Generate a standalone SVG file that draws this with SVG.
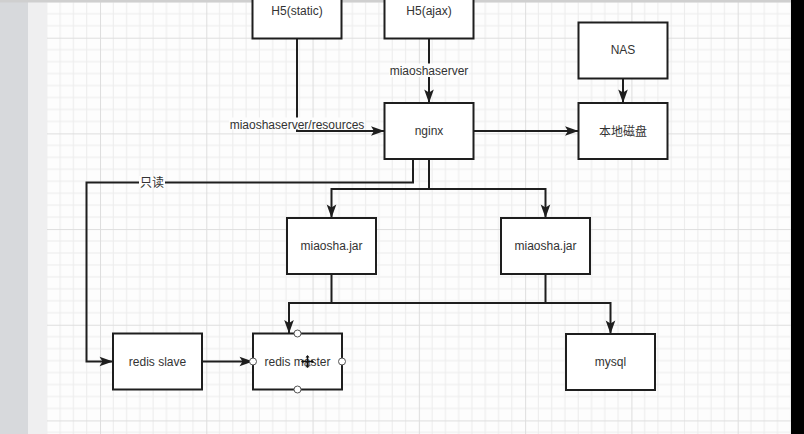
<svg xmlns="http://www.w3.org/2000/svg" width="804" height="434" viewBox="0 0 804 434">
<style>
.box{fill:#ffffff;stroke:#1e1e1e;stroke-width:2}
.t{font-family:"Liberation Sans",Arial,"Noto Sans CJK SC",sans-serif;font-size:12px;fill:#333333;text-anchor:middle}
.c{fill:none;stroke:#1e1e1e;stroke-width:2}
.lbg{fill:#fdfdfd}
.pt{fill:#ffffff;stroke:#555555;stroke-width:1}
</style>
<defs>
<pattern id="grid" patternUnits="userSpaceOnUse" x="100" y="37.7" width="106.28" height="95.68">
<rect width="106.28" height="95.68" fill="#fdfdfd"/>
<g stroke="#ececec" stroke-width="1">
<path d="M13.285 0V95.68M26.57 0V95.68M39.855 0V95.68M53.14 0V95.68M66.425 0V95.68M79.71 0V95.68M92.995 0V95.68"/>
<path d="M0 11.96H106.28M0 23.92H106.28M0 35.88H106.28M0 47.84H106.28M0 59.8H106.28M0 71.76H106.28M0 83.72H106.28"/>
</g>
<path d="M0.5 0V95.68M0 0.5H106.28" stroke="#dedede" stroke-width="1"/>
</pattern>
<marker id="ar" markerUnits="userSpaceOnUse" markerWidth="16" markerHeight="12" viewBox="-14 -6 16 12" refX="0" refY="0" orient="auto">
<path d="M0 0L-13.5 -4.8L-10.5 0L-13.5 4.8Z" fill="#1e1e1e"/>
</marker>
</defs>
<rect x="0" y="0" width="804" height="434" fill="#fdfdfd"/>
<rect x="47" y="0" width="744" height="434" fill="url(#grid)"/>
<rect x="0" y="0" width="28" height="434" fill="#d7d9dc"/>
<rect x="28" y="0" width="19" height="434" fill="#efeff0"/>
<rect x="0" y="0" width="804" height="2.5" fill="#cfcfcf"/>
<rect x="791" y="0" width="13" height="434" fill="#000000"/>

<g id="connectors">
<path class="c" d="M297 38.5V131H384.5" marker-end="url(#ar)"/>
<path class="c" d="M429 38.5V103" marker-end="url(#ar)"/>
<path class="c" d="M473.5 131H578.5" marker-end="url(#ar)"/>
<path class="c" d="M623 78.5V103" marker-end="url(#ar)"/>
<path class="c" d="M413 159V182.5H86.5V361.5H113" marker-end="url(#ar)"/>
<path class="c" d="M429 159V189H331.5V218" marker-end="url(#ar)"/>
<path class="c" d="M429 189H545.5V218" marker-end="url(#ar)"/>
<path class="c" d="M331.5 274V303H289V333.5" marker-end="url(#ar)"/>
<path class="c" d="M545.5 274V303H610.5V334" marker-end="url(#ar)"/>
<path class="c" d="M545.5 303H331.5"/>
<path class="c" d="M202 361.5H253" marker-end="url(#ar)"/>
<rect class="lbg" x="389" y="63.5" width="80" height="13.5"/>
<text class="t" x="429" y="75">miaoshaserver</text>
<rect class="lbg" x="229" y="117.5" width="136" height="12"/>
<text class="t" x="297" y="128.5">miaoshaserver/resources</text>
<rect class="lbg" x="139" y="176" width="26" height="12"/>
<text class="t" x="152" y="186.5">只读</text>
</g>

<g id="h5static"><rect class="box" x="252.5" y="-17.5" width="89" height="56"/><text class="t" x="297" y="14.5">H5(static)</text></g>
<g id="h5ajax"><rect class="box" x="384.5" y="-17.5" width="89" height="56"/><text class="t" x="429" y="14.5">H5(ajax)</text></g>
<g id="nginx"><rect class="box" x="384.5" y="103" width="89" height="56"/><text class="t" x="429" y="135">nginx</text></g>
<g id="nas"><rect class="box" x="578.5" y="22.5" width="89" height="56"/><text class="t" x="623" y="54">NAS</text></g>
<g id="disk"><rect class="box" x="578.5" y="103" width="89" height="56"/><text class="t" x="623" y="135.5">本地磁盘</text></g>
<g id="jar1"><rect class="box" x="287" y="218" width="89" height="56"/><text class="t" x="331.5" y="250">miaosha.jar</text></g>
<g id="jar2"><rect class="box" x="501" y="218" width="89" height="56"/><text class="t" x="545.5" y="250">miaosha.jar</text></g>
<g id="mysql"><rect class="box" x="566" y="334" width="89" height="56"/><text class="t" x="610.5" y="366">mysql</text></g>
<g id="redisslave"><rect class="box" x="113" y="333.5" width="89" height="56"/><text class="t" x="157.5" y="365.5">redis slave</text></g>
<g id="redismaster"><rect class="box" x="253" y="333.5" width="89" height="56"/><text class="t" x="297.5" y="365.5">redis master</text>
<circle class="pt" cx="297.5" cy="333.5" r="3.5"/>
<circle class="pt" cx="297.5" cy="389.5" r="3.5"/>
<circle class="pt" cx="253" cy="361.5" r="3.5"/>
<circle class="pt" cx="342" cy="361.5" r="3.5"/>
<g id="cursor">
<circle cx="307.5" cy="365" r="3" fill="#999999" opacity="0.5"/>
<path d="M307.5 356V367M302 361.5H313" stroke="#111111" stroke-width="1.5" fill="none"/>
<path d="M307.5 355L305.5 357.5H309.5Z M307.5 368L305.5 365.5H309.5Z M301 361.5L303.5 359.5V363.5Z M314 361.5L311.5 359.5V363.5Z" fill="#111111"/>
</g>
</g>
</svg>
